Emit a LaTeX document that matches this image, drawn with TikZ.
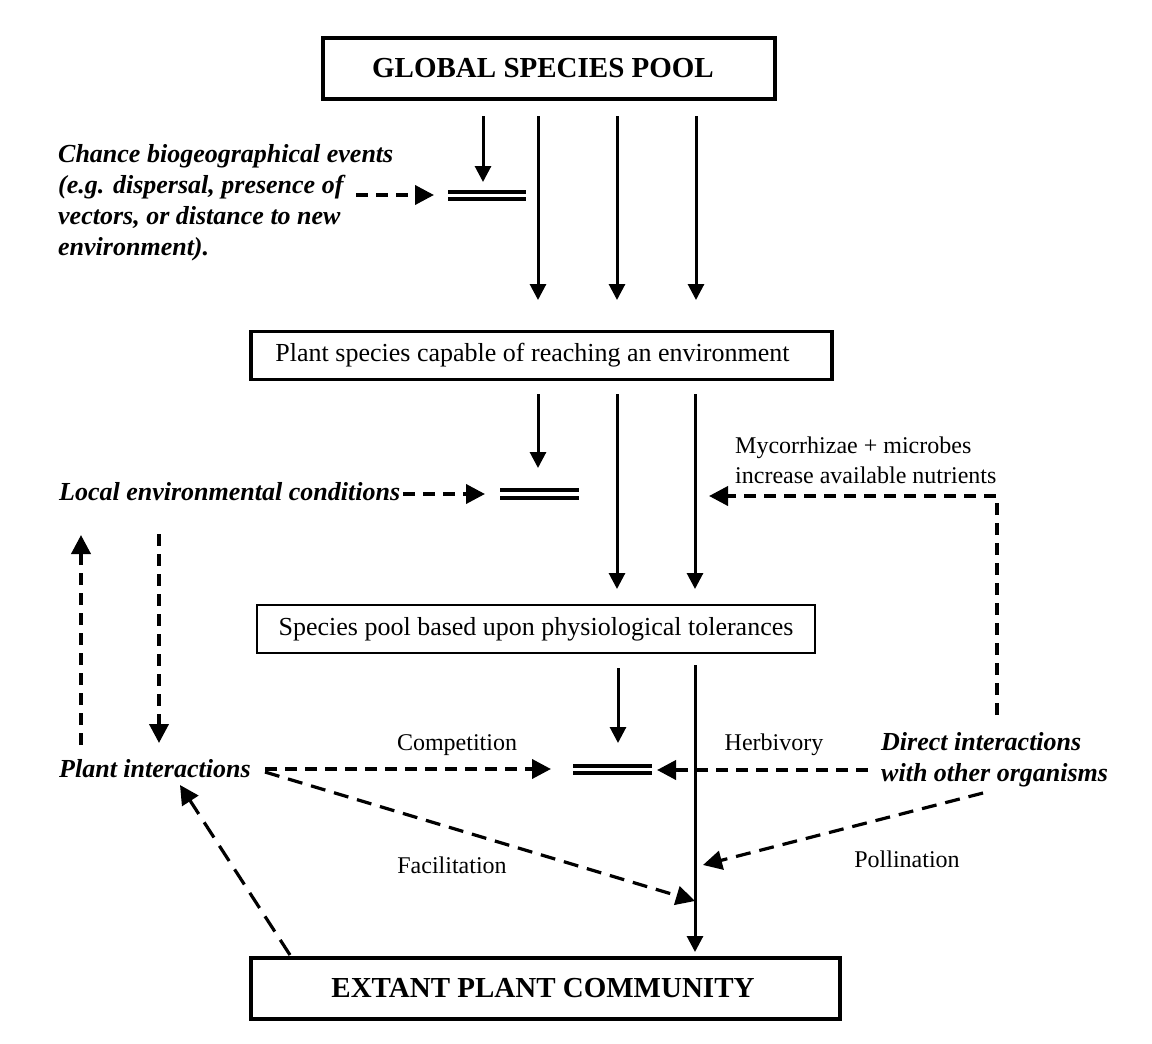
\documentclass[tikz,border=0pt]{standalone}
\usepackage{fontspec}
\setmainfont{Liberation Serif}
\usetikzlibrary{arrows.meta}
\begin{document}
\begin{tikzpicture}[x=1pt,y=-1pt,
  bigbox/.style={draw, line width=3.5pt, inner sep=0pt, font=\fontsize{29}{34}\selectfont\bfseries},
  midbox/.style={draw, inner sep=0pt, font=\fontsize{26}{31}\selectfont},
  bi/.style={inner sep=0pt, align=left, font=\fontsize{26}{31}\selectfont\bfseries\itshape},
  lbl/.style={inner sep=0pt, align=left, font=\fontsize{24}{30}\selectfont},
  solidarrow/.style={line width=3pt, -{Triangle[length=16pt,width=16pt]}},
  dasharrow/.style={line width=3.8pt, dash pattern=on 12pt off 8pt, -{Triangle[length=19pt,width=19pt]}},
  diagarrow/.style={line width=3.2pt, dash pattern=on 15pt off 9pt, -{Triangle[length=19pt,width=19pt]}},
  bar/.style={line width=3.5pt}]
\useasboundingbox (0,0) rectangle (1152,1044);

% boxes
\node[bigbox, minimum width=452pt, minimum height=61pt] (global) at (549,68.5) {GLOBAL SPECIES POOL\hspace*{12pt}};
\node[midbox, line width=3.2pt, minimum width=581pt, minimum height=48pt] (reach) at (541.5,355.5) {Plant species capable of reaching an environment\hspace*{18pt}};
\node[midbox, line width=2.2pt, minimum width=558pt, minimum height=48pt] (pool) at (536,629) {Species pool based upon physiological tolerances};
\node[bigbox, minimum width=589pt, minimum height=61pt] (extant) at (545.5,988.5) {EXTANT PLANT COMMUNITY\hspace*{5pt}};

% italic bold labels
\node[bi, anchor=north west] (chance) at (58,144) {Chance biogeographical events\\(e.g. dispersal, presence of\\vectors, or distance to new\\environment).};
\node[bi, anchor=base west] (local) at (59,500) {Local environmental conditions};
\node[bi, anchor=base west] (plantint) at (59,777) {Plant interactions};
\node[bi, anchor=north west] (direct) at (881,732) {Direct interactions\\with other organisms};

% plain labels
\node[lbl, anchor=north west] (myco) at (735,437) {Mycorrhizae + microbes\\increase available nutrients};
\node[lbl, anchor=base] (competition) at (457,750) {Competition};
\node[lbl, anchor=base] (herbivory) at (774,750) {Herbivory};
\node[lbl, anchor=base] (facilitation) at (452,873) {Facilitation};
\node[lbl, anchor=base] (pollination) at (907,867) {Pollination};

% coordinates
\coordinate (g1s) at (483,116); \coordinate (g1e) at (483,182);
\coordinate (g2s) at (538,116); \coordinate (g2e) at (538,300);
\coordinate (g3s) at (617,116); \coordinate (g3e) at (617,300);
\coordinate (g4s) at (696,116); \coordinate (g4e) at (696,300);
\coordinate (bar1l) at (448,192); \coordinate (bar1r) at (526,192);
\coordinate (bar1l2) at (448,199); \coordinate (bar1r2) at (526,199);
\coordinate (cs) at (356,195); \coordinate (ce) at (434,195);

\coordinate (p1s) at (538,394); \coordinate (p1e) at (538,468);
\coordinate (p2s) at (617,394); \coordinate (p2e) at (617,589);
\coordinate (p3s) at (695,394); \coordinate (p3e) at (695,589);
\coordinate (bar2l) at (500,490); \coordinate (bar2r) at (579,490);
\coordinate (bar2l2) at (500,498); \coordinate (bar2r2) at (579,498);
\coordinate (ls) at (403,494); \coordinate (le) at (485,494);
\coordinate (ms) at (997,715); \coordinate (me) at (709,496);

\coordinate (upS) at (81,745); \coordinate (upE) at (81,535);
\coordinate (dnS) at (159,534); \coordinate (dnE) at (159,743);

\coordinate (s1s) at (618,668); \coordinate (s1e) at (618,743);
\coordinate (s2s) at (695,665); \coordinate (s2e) at (695,952);
\coordinate (bar3l) at (573,766); \coordinate (bar3r) at (652,766);
\coordinate (bar3l2) at (573,773); \coordinate (bar3r2) at (652,773);
\coordinate (compS) at (265,769); \coordinate (compE) at (551,769);
\coordinate (herbS) at (868,770); \coordinate (herbE) at (657,770);
\coordinate (facS) at (265,772); \coordinate (facE) at (695,901);
\coordinate (polS) at (983,793); \coordinate (polE) at (703,865);
\coordinate (extS) at (290,955); \coordinate (extE) at (180,785);

% top solid arrows
\draw[solidarrow] (g1s) -- (g1e);
\draw[solidarrow] (g2s) -- (g2e);
\draw[solidarrow] (g3s) -- (g3e);
\draw[solidarrow] (g4s) -- (g4e);
\draw[bar] (bar1l) -- (bar1r);
\draw[bar] (bar1l2) -- (bar1r2);
\draw[dasharrow] (cs) -- (ce);

% middle
\draw[solidarrow] (p1s) -- (p1e);
\draw[solidarrow] (p2s) -- (p2e);
\draw[solidarrow] (p3s) -- (p3e);
\draw[bar] (bar2l) -- (bar2r);
\draw[bar] (bar2l2) -- (bar2r2);
\draw[dasharrow] (ls) -- (le);
\draw[dasharrow] (ms) |- (me);

% left loop
\draw[dasharrow] (upS) -- (upE);
\draw[dasharrow] (dnS) -- (dnE);

% bottom
\draw[solidarrow] (s1s) -- (s1e);
\draw[solidarrow] (s2s) -- (s2e);
\draw[bar] (bar3l) -- (bar3r);
\draw[bar] (bar3l2) -- (bar3r2);
\draw[dasharrow] (compS) -- (compE);
\draw[dasharrow] (herbS) -- (herbE);
\draw[diagarrow] (facS) -- (facE);
\draw[diagarrow] (polS) -- (polE);
\draw[diagarrow, dash pattern=on 18pt off 10pt] (extS) -- (extE);
\end{tikzpicture}
\end{document}
